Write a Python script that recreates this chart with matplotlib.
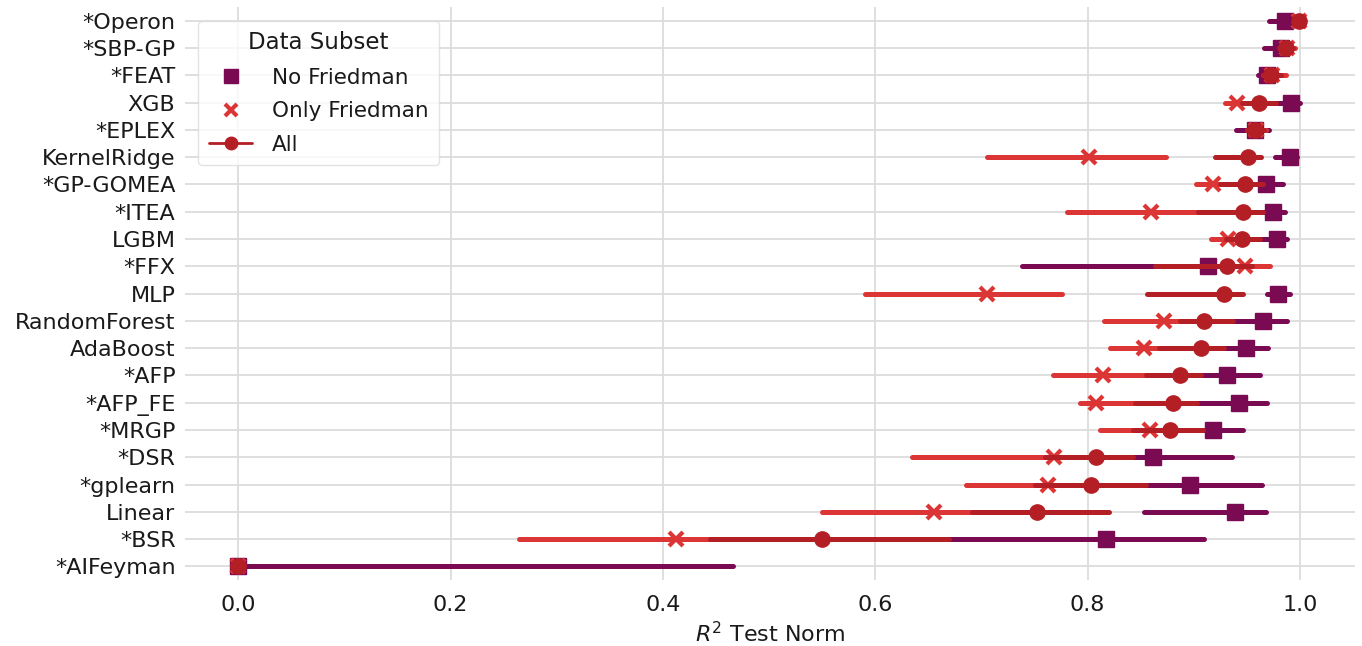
import matplotlib
matplotlib.use("Agg")
import matplotlib.pyplot as plt
from matplotlib.lines import Line2D
import seaborn as sns

methods = ["*Operon", "*SBP-GP", "*FEAT", "XGB", "*EPLEX", "KernelRidge",
           "*GP-GOMEA", "*ITEA", "LGBM", "*FFX", "MLP", "RandomForest",
           "AdaBoost", "*AFP", "*AFP_FE", "*MRGP", "*DSR", "*gplearn",
           "Linear", "*BSR", "*AIFeyman"]

# No Friedman
nf_mean = [0.986, 0.982, 0.969, 0.992, 0.958, 0.991, 0.968, 0.975, 0.978, 0.913, 0.979,
           0.965, 0.949, 0.931, 0.943, 0.918, 0.862, 0.896, 0.939, 0.817, 0.0]
nf_lo = [0.971, 0.966, 0.960, 0.977, 0.940, 0.976, 0.955, 0.960, 0.962, 0.738, 0.969,
         0.930, 0.920, 0.900, 0.895, 0.900, 0.830, 0.850, 0.853, 0.669, 0.0]
nf_hi = [0.998, 0.992, 0.978, 1.000, 0.971, 0.997, 0.984, 0.986, 0.988, 0.960, 0.991,
         0.988, 0.970, 0.962, 0.969, 0.946, 0.936, 0.964, 0.968, 0.910, 0.466]

# Only Friedman
of_mean = [0.999, 0.988, 0.974, 0.941, 0.959, 0.801, 0.918, 0.860, 0.932, 0.948, 0.705,
           0.872, 0.853, 0.814, 0.808, 0.859, 0.768, 0.763, 0.655, 0.412, 0.0]
of_lo = [0.997, 0.982, 0.965, 0.929, 0.950, 0.705, 0.902, 0.781, 0.916, 0.900, 0.590,
         0.815, 0.821, 0.767, 0.793, 0.812, 0.635, 0.685, 0.550, 0.264, 0.0]
of_hi = [1.000, 0.995, 0.987, 0.955, 0.968, 0.874, 0.935, 0.920, 0.945, 0.972, 0.776,
         0.920, 0.890, 0.870, 0.860, 0.880, 0.800, 0.800, 0.720, 0.500, 0.0]

# All
all_mean = [0.999, 0.987, 0.973, 0.961, 0.958, 0.951, 0.948, 0.946, 0.945, 0.931, 0.928,
            0.910, 0.907, 0.887, 0.880, 0.878, 0.808, 0.803, 0.752, 0.550, 0.0]
all_lo = [0.998, 0.980, 0.965, 0.945, 0.950, 0.920, 0.925, 0.904, 0.930, 0.863, 0.856,
          0.887, 0.867, 0.855, 0.845, 0.843, 0.760, 0.750, 0.691, 0.444, 0.0]
all_hi = [1.000, 0.993, 0.982, 0.977, 0.966, 0.963, 0.965, 0.965, 0.962, 0.955, 0.946,
          0.937, 0.928, 0.907, 0.903, 0.909, 0.843, 0.855, 0.820, 0.669, 0.0]

c_nf = "#7a0a52"
c_of = "#dc3535"
c_all = "#b41f26"
txt = "#1a1a1a"

sns.set_style("whitegrid")
plt.rcParams['font.family'] = ['DejaVu Sans']
plt.rcParams['text.color'] = txt

fig = plt.figure(figsize=(13.62, 6.46), dpi=100)
ax = fig.add_axes([0.136, 0.102, 0.859, 0.887])

y = list(range(len(methods)))

series = [
    (nf_mean, nf_lo, nf_hi, c_nf, "s", 11, "No Friedman"),
    (of_mean, of_lo, of_hi, c_of, "x", 9.5, "Only Friedman"),
    (all_mean, all_lo, all_hi, c_all, "o", 11, "All"),
]

for z, (m, lo, hi, col, mk, ms, lab) in enumerate(series):
    for i in y:
        ax.plot([lo[i], hi[i]], [i, i], color=col, lw=3.6, zorder=2 + z * 2,
                solid_capstyle="round")
    ax.plot(m, y, linestyle="none", marker=mk, color=col, markersize=ms,
            mew=3 if mk == "x" else 1, zorder=3 + z * 2)

ax.set_yticks(y)
ax.set_yticklabels(methods, fontsize=16, color=txt)
ax.set_ylim(len(methods) - 0.5, -0.5)
ax.set_xlim(-0.05, 1.052)
ax.set_xticks([0.0, 0.2, 0.4, 0.6, 0.8, 1.0])
ax.set_xticklabels(["0.0", "0.2", "0.4", "0.6", "0.8", "1.0"], fontsize=16, color=txt)
ax.tick_params(axis="x", length=0, pad=11)
ax.tick_params(axis="y", length=0, pad=7)
ax.set_xlabel("$R^2$ Test Norm", fontsize=16, color=txt, labelpad=4)
ax.grid(True, color="#dcdcdc", lw=1.3)
for s in ax.spines.values():
    s.set_visible(False)

handles = [
    Line2D([], [], linestyle="none", marker="s", color=c_nf, markersize=10),
    Line2D([], [], linestyle="none", marker="x", color=c_of, markersize=9, mew=3),
    Line2D([], [], marker="o", color=c_all, markersize=9, lw=2),
]
leg = ax.legend(handles, ["No Friedman", "Only Friedman", "All"], title="Data Subset",
                loc="upper left", bbox_to_anchor=(0.002, 0.995), fontsize=15.5,
                title_fontsize=16.5, frameon=True, handlelength=2.0, borderpad=0.5,
                labelspacing=0.62, handletextpad=0.9)
leg.get_frame().set_edgecolor("#dddddd")
for t in leg.get_texts():
    t.set_color(txt)
leg.get_title().set_color(txt)

fig.savefig("out.png", dpi=100)
